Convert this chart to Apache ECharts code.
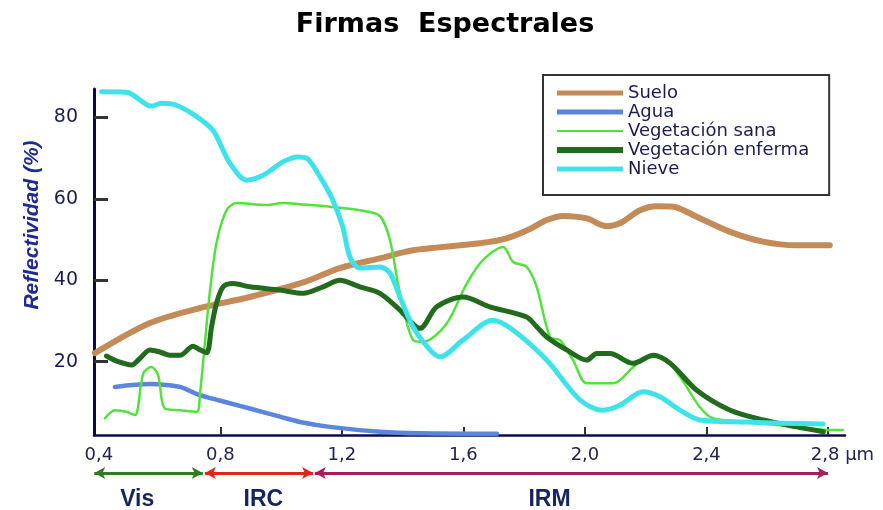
<!DOCTYPE html>
<html>
<head>
<meta charset="utf-8">
<script src="https://cdn.jsdelivr.net/npm/echarts@6/dist/echarts.min.js"></script>
<style>
  html, body { margin: 0; padding: 0; background: #fff; }
  #chart { width: 883px; height: 510px; }
</style>
</head>
<body>
<div id="chart"></div>
<script>
// ---- data (wavelength in µm, reflectivity in %) ----
const seriesNames = ['Suelo', 'Agua', 'Vegetación sana', 'Vegetación enferma', 'Nieve'];

const suelo = [[0.387,22.1],[0.568,29.5],[0.733,33.2],[0.897,35.9],[1.078,39.6],[1.193,43.0],[1.325,45.4],[1.434,47.4],[1.654,49.1],[1.742,50.3],[1.819,52.6],[1.874,54.8],[1.928,55.8],[2.006,55.2],[2.071,53.3],[2.115,54.0],[2.181,57.2],[2.236,58.2],[2.290,58.1],[2.368,55.6],[2.478,51.9],[2.586,49.5],[2.697,48.6],[2.806,48.6]];

const agua = [[0.453,13.8],[0.568,14.5],[0.623,14.3],[0.667,13.8],[0.733,11.8],[0.831,9.8],[0.897,8.5],[0.996,6.5],[1.062,5.2],[1.160,4.0],[1.325,2.8],[1.457,2.4],[1.710,2.3]];

const vegSana = [[0.420,6.1],[0.453,8.1],[0.491,7.7],[0.519,6.9],[0.546,17.1],[0.573,18.7],[0.595,16.7],[0.617,8.5],[0.667,8.1],[0.722,7.7],[0.733,12.3],[0.749,24.6],[0.765,36.9],[0.787,49.1],[0.820,57.2],[0.853,59.0],[0.952,58.5],[1.007,59.0],[1.062,58.7],[1.160,58.1],[1.259,57.2],[1.325,55.8],[1.358,49.9],[1.391,36.8],[1.435,25.3],[1.468,24.9],[1.545,29.4],[1.611,39.2],[1.665,45.0],[1.731,48.2],[1.764,44.5],[1.808,43.3],[1.841,38.4],[1.885,26.1],[1.918,25.3],[1.961,20.4],[2.006,14.7],[2.093,14.7],[2.159,18.7],[2.203,21.2],[2.258,20.9],[2.313,16.3],[2.378,8.9],[2.422,6.1],[2.532,5.2],[2.697,4.0],[2.806,3.2],[2.849,3.2]];

const vegEnferma = [[0.425,21.4],[0.464,20.0],[0.508,19.2],[0.535,20.8],[0.568,22.9],[0.601,22.4],[0.634,21.6],[0.667,21.6],[0.710,23.8],[0.733,22.9],[0.755,22.2],[0.771,28.6],[0.787,34.3],[0.809,38.4],[0.842,39.2],[0.897,38.4],[0.996,37.6],[1.073,36.8],[1.138,38.4],[1.193,40.0],[1.259,38.4],[1.325,36.8],[1.391,32.7],[1.457,28.2],[1.512,33.5],[1.599,35.9],[1.687,33.5],[1.808,31.0],[1.841,28.6],[1.874,26.1],[1.940,22.9],[2.006,20.4],[2.039,22.0],[2.082,22.0],[2.159,19.6],[2.225,21.6],[2.281,19.6],[2.368,13.0],[2.478,8.1],[2.587,5.7],[2.697,4.0],[2.785,2.8]];

const nieve = [[0.409,86.3],[0.491,86.2],[0.573,82.8],[0.606,83.5],[0.656,83.0],[0.722,80.2],[0.775,76.9],[0.804,72.8],[0.831,68.8],[0.886,64.6],[0.940,65.8],[1.006,69.1],[1.055,70.3],[1.084,70.0],[1.128,65.4],[1.170,59.7],[1.203,53.1],[1.226,45.8],[1.259,43.0],[1.325,43.3],[1.358,41.8],[1.391,35.9],[1.434,28.6],[1.490,22.9],[1.523,21.2],[1.598,25.3],[1.697,30.2],[1.763,27.8],[1.874,20.4],[1.984,10.6],[2.059,8.1],[2.115,9.3],[2.191,12.6],[2.247,11.4],[2.313,8.1],[2.378,5.7],[2.532,5.2],[2.642,4.9],[2.784,4.7]];

const xTickValues = [0.4, 0.8, 1.2, 1.6, 2.0, 2.4, 2.8];
const xTickLabels = ['0,4', '0,8', '1,2', '1,6', '2,0', '2,4', '2,8 µm'];
const yTickValues = [20, 40, 60, 80];

const bandNames = ['Vis', 'IRC', 'IRM'];
const bandStart = [0.385, 0.749, 1.111];
const bandEnd = [0.742, 1.105, 2.8];
const bandLabelAt = [0.528, 0.943, 1.885];

// ---- styles ----
const colors = ['#c48a58', '#5b86dc', '#55e040', '#226b1c', '#40e2ea'];
const widths = [6, 4.5, 2.5, 5, 5];
const legendBar = [5, 5, 2, 6, 5];
const bandColors = ['#2e7d20', '#e3241c', '#a3205c'];
const XMIN = 0.384, XMAX = 2.856;

// legend icon: horizontal bar of thickness t, centred inside a 66x14 box
function barIcon(t) {
  const y0 = (14 - t) / 2, y1 = y0 + t;
  return 'path://M0,0L0.01,0L0.01,0.01Z M65.99,14L66,14L66,13.99Z M0,' + y0 + 'L66,' + y0 + 'L66,' + y1 + 'L0,' + y1 + 'Z';
}

const dataSets = [suelo, agua, vegSana, vegEnferma, nieve];
const lineSeries = seriesNames.map((name, i) => ({
  name: name,
  type: 'line',
  xAxisIndex: 0, yAxisIndex: 0,
  data: dataSets[i],
  symbol: 'none',
  showSymbol: false,
  smooth: 0.3,
  lineStyle: { color: colors[i], width: widths[i], cap: 'round', join: 'round' },
  itemStyle: { color: colors[i] },
  z: 2
}));

const arrowSeries = {
  type: 'line',
  xAxisIndex: 1, yAxisIndex: 1,
  data: [],
  symbol: 'none',
  silent: true,
  markLine: {
    silent: true,
    symbol: ['arrow', 'arrow'],
    symbolSize: [9, 11],
    label: { show: false },
    data: bandNames.map((n, i) => [
      { coord: [bandStart[i], 0.74], lineStyle: { color: bandColors[i], width: 3, type: 'solid' }, itemStyle: { color: bandColors[i] } },
      { coord: [bandEnd[i], 0.74] }
    ])
  }
};

const bandLabelSeries = {
  type: 'scatter',
  xAxisIndex: 1, yAxisIndex: 1,
  symbolSize: 1,
  itemStyle: { color: 'rgba(255,255,255,0)', opacity: 1 },
  silent: true,
  data: bandNames.map((n, i) => ({ value: [bandLabelAt[i], 0.2], name: n })),
  label: {
    show: true, position: [0, 0], align: 'center', verticalAlign: 'middle',
    formatter: p => p.name,
    opacity: 1,
    textBorderWidth: 0,
    fontFamily: 'Liberation Sans', fontWeight: 'bold', fontSize: 23, color: '#14245e'
  }
};

const chart = echarts.init(document.getElementById('chart'), null, { renderer: 'canvas' });
chart.setOption({
  animation: false,
  backgroundColor: '#ffffff',
  title: {
    text: 'Firmas  Espectrales',
    left: 445, top: 11, padding: 0,
    textAlign: 'center',
    textStyle: { fontFamily: 'DejaVu Sans', fontWeight: 'bold', fontSize: 27, color: '#000' }
  },
  legend: {
    data: seriesNames.map((n, i) => ({ name: n, icon: barIcon(legendBar[i]), itemStyle: { color: colors[i] } })),
    orient: 'vertical',
    left: 543, top: 75,
    itemWidth: 66, itemHeight: 14, itemGap: 1,
    padding: [9, 20, 17, 14],
    borderColor: '#333', borderWidth: 2,
    backgroundColor: '#fff',
    selectedMode: false,
    textStyle: { fontFamily: 'DejaVu Sans', fontSize: 18, lineHeight: 18, color: '#1c1c52' }
  },
  grid: [
    { left: 94, right: 38, top: 89, bottom: 75 },
    { left: 94, right: 38, top: 460, bottom: 0 }
  ],
  xAxis: [
    {
      type: 'value', gridIndex: 0, min: XMIN, max: XMAX,
      axisLine: { show: true, lineStyle: { color: '#0d0d4d', width: 2.5 } },
      axisTick: { show: true, inside: true, length: 8, customValues: xTickValues.slice(1), lineStyle: { color: '#333', width: 2 } },
      axisLabel: {
        show: true, margin: 11, customValues: xTickValues,
        fontFamily: 'DejaVu Sans', fontSize: 18, color: '#23234f',
        formatter: v => {
          const idx = xTickValues.findIndex(t => Math.abs(t - v) < 1e-6);
          const txt = idx >= 0 ? xTickLabels[idx] : '';
          return idx === xTickValues.length - 1 ? '{u|' + txt + '}' : txt;
        },
        rich: { u: { fontFamily: 'DejaVu Sans', fontSize: 18, color: '#23234f', padding: [0, 0, 0, 29] } }
      },
      splitLine: { show: false }
    },
    { type: 'value', gridIndex: 1, min: XMIN, max: XMAX, show: false }
  ],
  yAxis: [
    {
      type: 'value', gridIndex: 0, min: 2, max: 87,
      name: 'Reflectividad (%)', nameLocation: 'middle', nameGap: 48,
      nameTextStyle: { fontFamily: 'Liberation Sans', fontStyle: 'italic', fontWeight: 'bold', fontSize: 21, color: '#1f2a8f', padding: [0, 0, 0, 74] },
      axisLine: { show: true, lineStyle: { color: '#0a0a4a', width: 3 } },
      axisTick: { show: true, inside: true, length: 14, customValues: yTickValues, lineStyle: { color: '#333', width: 3 } },
      axisLabel: { show: true, margin: 16, customValues: yTickValues, fontFamily: 'DejaVu Sans', fontSize: 19, color: '#1c1c4f' },
      splitLine: { show: false }
    },
    { type: 'value', gridIndex: 1, min: 0, max: 1, show: false }
  ],
  series: lineSeries.concat([arrowSeries, bandLabelSeries])
});
</script>
</body>
</html>
